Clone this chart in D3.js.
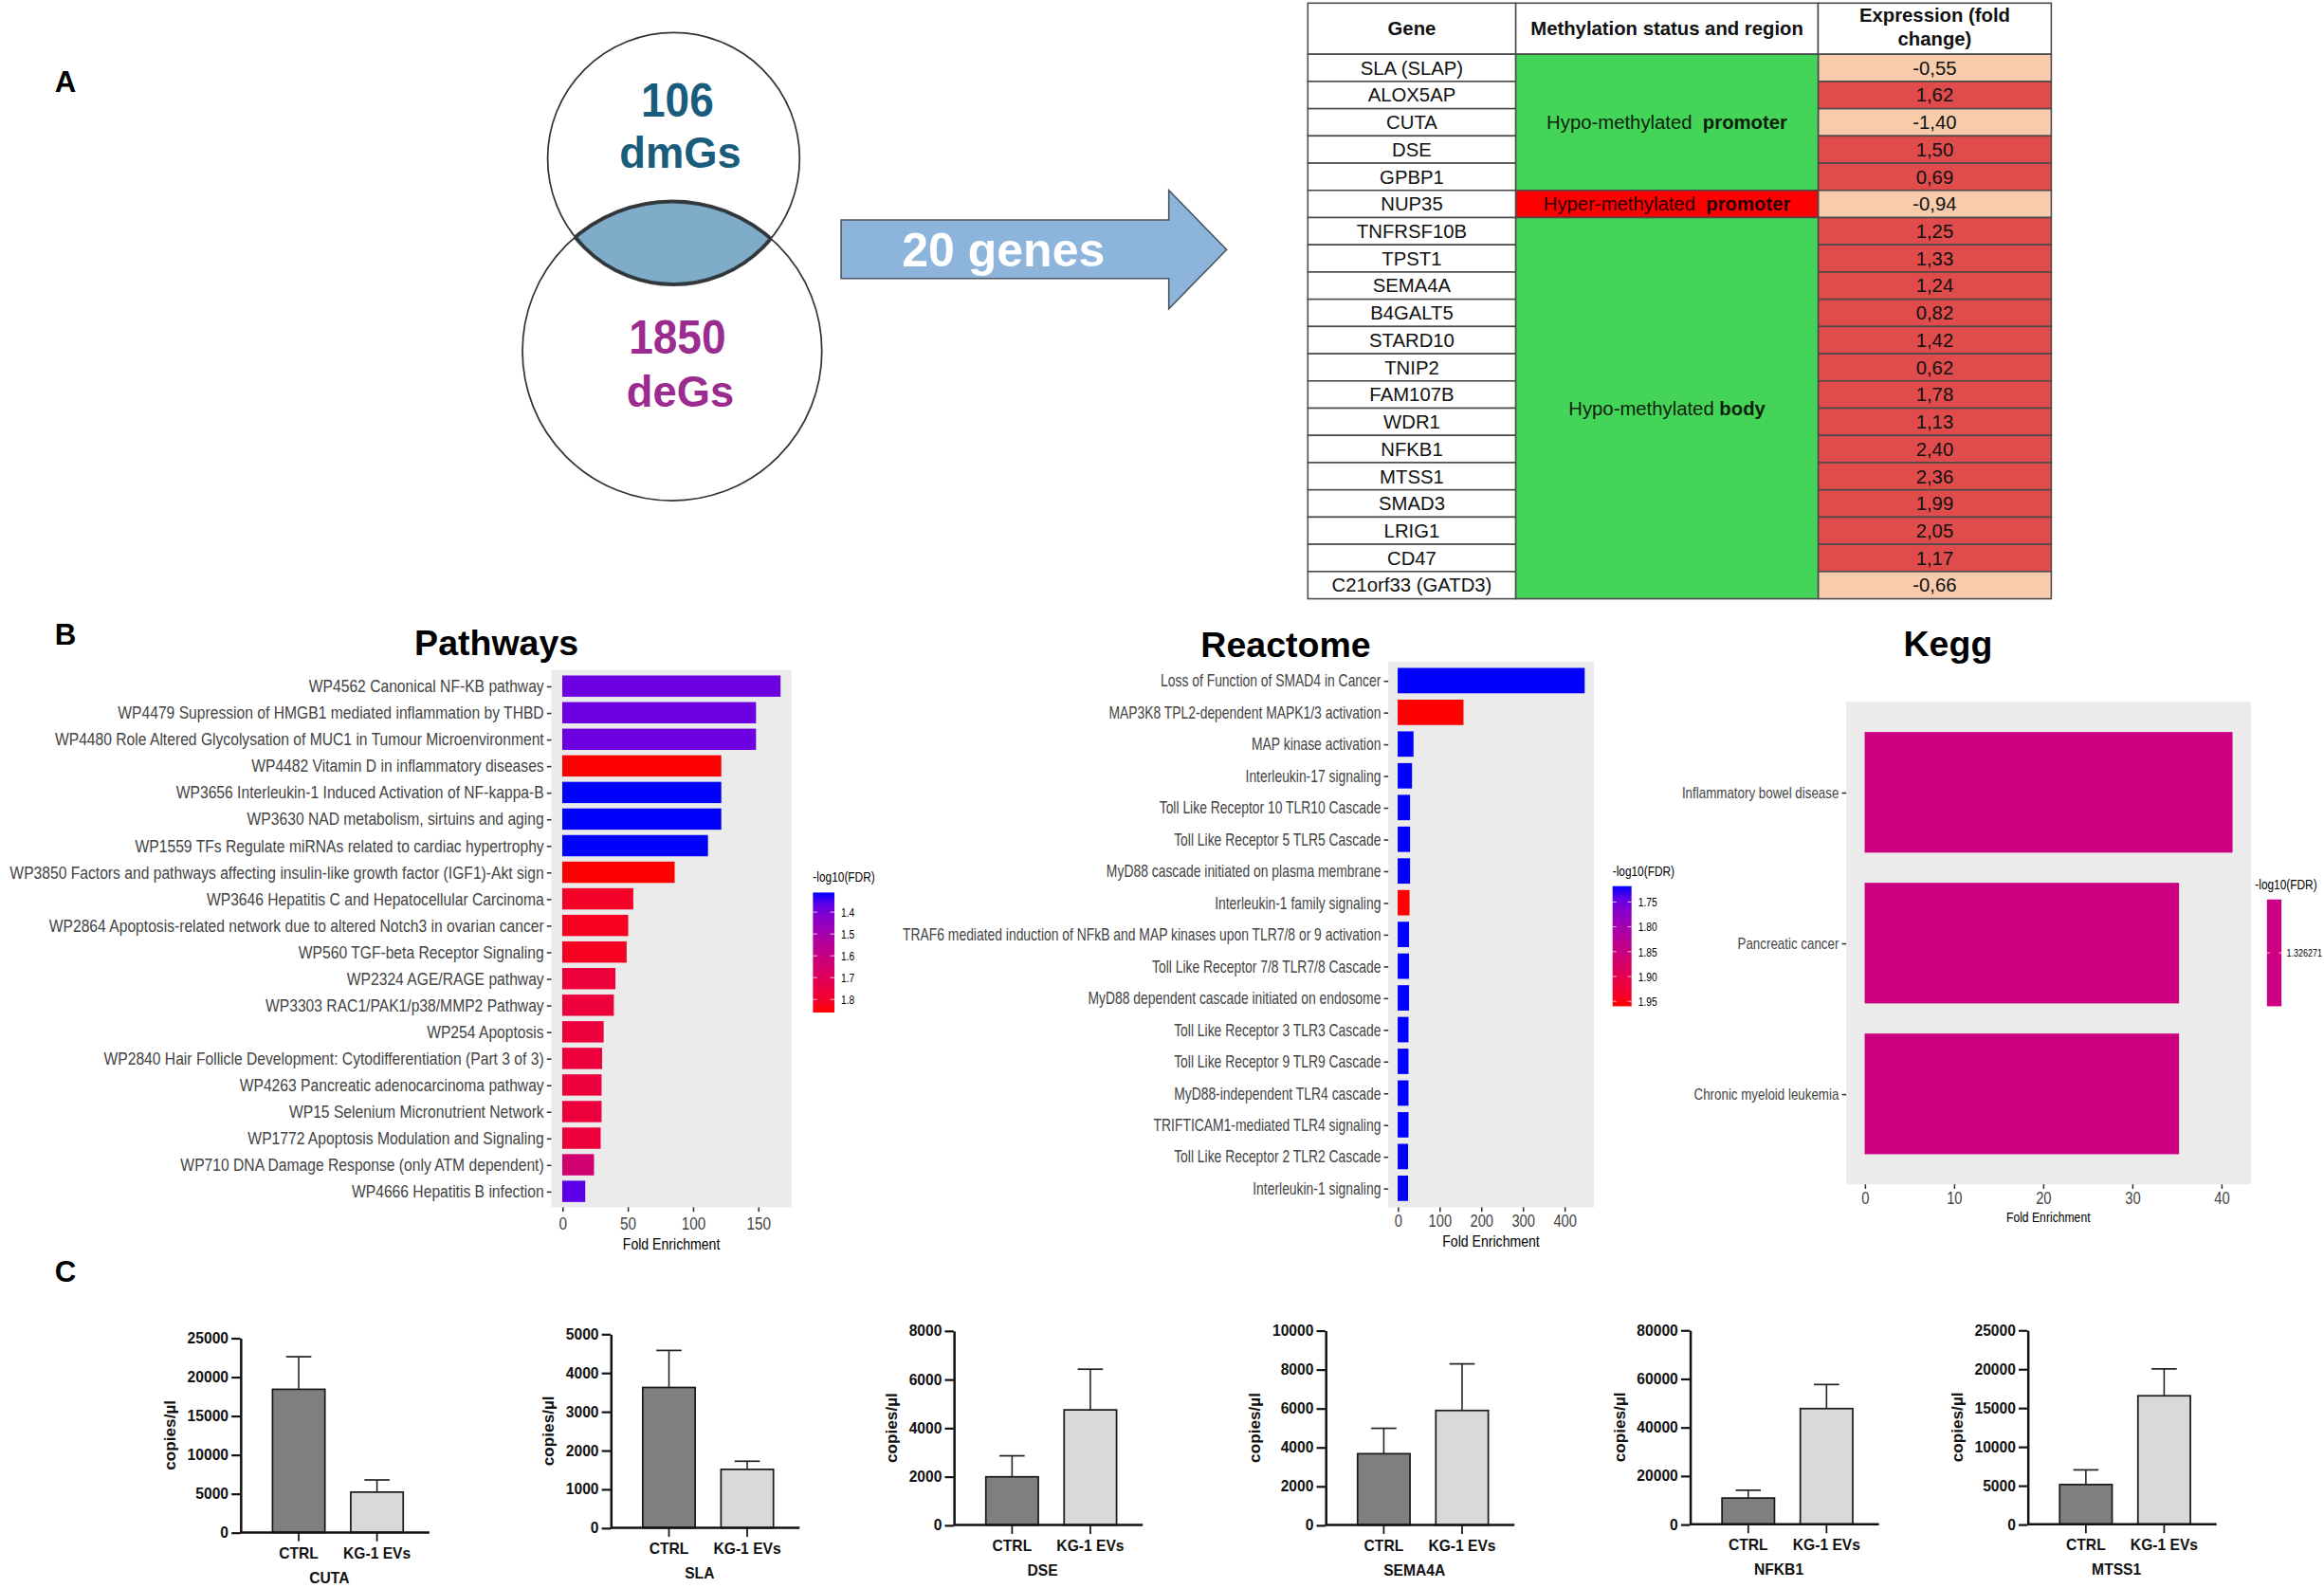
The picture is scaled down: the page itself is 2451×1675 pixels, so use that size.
<!DOCTYPE html>
<html>
<head>
<meta charset="utf-8">
<script src="https://cdn.jsdelivr.net/npm/d3@7.9.0/dist/d3.min.js"></script>
<style>
  body { margin: 0; background: #fff; }
  svg { display: block; }
</style>
</head>
<body>
<svg id="fig"></svg>
<script>
// ---------- data ----------
// panel A: venn
const vennCounts = [106, 1850];
const vennNames = ['dmGs', 'deGs'];
const overlapCount = 20;

// panel A: table
const tableHeader = ['Gene', 'Methylation status and region', ['Expression (fold', 'change)']];
const genes = ['SLA (SLAP)', 'ALOX5AP', 'CUTA', 'DSE', 'GPBP1', 'NUP35', 'TNFRSF10B', 'TPST1',
  'SEMA4A', 'B4GALT5', 'STARD10', 'TNIP2', 'FAM107B', 'WDR1', 'NFKB1', 'MTSS1', 'SMAD3',
  'LRIG1', 'CD47', 'C21orf33 (GATD3)'];
const foldChange = [-0.55, 1.62, -1.40, 1.50, 0.69, -0.94, 1.25, 1.33, 1.24, 0.82, 1.42, 0.62,
  1.78, 1.13, 2.40, 2.36, 1.99, 2.05, 1.17, -0.66];
// [status, region, first row, number of rows]
const methylRegions = [
  ['Hypo-methylated', 'promoter', 0, 5],
  ['Hyper-methylated', 'promoter', 5, 1],
  ['Hypo-methylated', 'body', 6, 14]
];

// panel B: WikiPathways
const pathwayNames = ['WP4562 Canonical NF-KB pathway',
  'WP4479 Supression of HMGB1 mediated inflammation by THBD',
  'WP4480 Role Altered Glycolysation of MUC1 in Tumour Microenvironment',
  'WP4482 Vitamin D in inflammatory diseases',
  'WP3656 Interleukin-1 Induced Activation of NF-kappa-B',
  'WP3630 NAD metabolism, sirtuins and aging',
  'WP1559 TFs Regulate miRNAs related to cardiac hypertrophy',
  'WP3850 Factors and pathways affecting insulin-like growth factor (IGF1)-Akt sign',
  'WP3646 Hepatitis C and Hepatocellular Carcinoma',
  'WP2864 Apoptosis-related network due to altered Notch3 in ovarian cancer',
  'WP560 TGF-beta Receptor Signaling',
  'WP2324 AGE/RAGE pathway',
  'WP3303 RAC1/PAK1/p38/MMP2 Pathway',
  'WP254 Apoptosis',
  'WP2840 Hair Follicle Development: Cytodifferentiation (Part 3 of 3)',
  'WP4263 Pancreatic adenocarcinoma pathway',
  'WP15 Selenium Micronutrient Network',
  'WP1772 Apoptosis Modulation and Signaling',
  'WP710 DNA Damage Response (only ATM dependent)',
  'WP4666 Hepatitis B infection'];
const pathwayFE = [167.2, 148.4, 148.4, 121.8, 121.8, 121.8, 111.6, 86.1, 54.4, 50.5, 49.3,
  40.7, 39.5, 31.7, 30.5, 30.1, 30.1, 29.4, 24.3, 17.6];
const pathwayFDR = [1.38, 1.38, 1.38, 1.86, 1.31, 1.31, 1.31, 1.86, 1.81, 1.82, 1.82,
  1.77, 1.77, 1.77, 1.77, 1.77, 1.77, 1.77, 1.64, 1.36];
const pathwayTicks = [0, 50, 100, 150];
const pathwayLegendTicks = [1.4, 1.5, 1.6, 1.7, 1.8];

// panel B: Reactome
const reactomeNames = ['Loss of Function of SMAD4 in Cancer',
  'MAP3K8 TPL2-dependent MAPK1/3 activation',
  'MAP kinase activation',
  'Interleukin-17 signaling',
  'Toll Like Receptor 10 TLR10 Cascade',
  'Toll Like Receptor 5 TLR5 Cascade',
  'MyD88 cascade initiated on plasma membrane',
  'Interleukin-1 family signaling',
  'TRAF6 mediated induction of NFkB and MAP kinases upon TLR7/8 or 9 activation',
  'Toll Like Receptor 7/8 TLR7/8 Cascade',
  'MyD88 dependent cascade initiated on endosome',
  'Toll Like Receptor 3 TLR3 Cascade',
  'Toll Like Receptor 9 TLR9 Cascade',
  'MyD88-independent TLR4 cascade',
  'TRIFTICAM1-mediated TLR4 signaling',
  'Toll Like Receptor 2 TLR2 Cascade',
  'Interleukin-1 signaling'];
const reactomeFE = [448.7, 157.9, 38.0, 34.4, 29.7, 29.7, 29.7, 28.5, 27.3, 27.3, 27.3,
  26.0, 26.0, 26.0, 26.0, 25.0, 25.0];
const reactomeFDR = [1.718, 1.96, 1.718, 1.718, 1.718, 1.718, 1.718, 1.96, 1.718, 1.718, 1.718,
  1.718, 1.718, 1.718, 1.718, 1.718, 1.718];
const reactomeTicks = [0, 100, 200, 300, 400];
const reactomeLegendTicks = [1.75, 1.80, 1.85, 1.90, 1.95];

// panel B: KEGG
const keggNames = ['Inflammatory bowel disease', 'Pancreatic cancer', 'Chronic myeloid leukemia'];
const keggFE = [41.27, 35.27, 35.27];
const keggFDR = [1.326271, 1.326271, 1.326271];
const keggTicks = [0, 10, 20, 30, 40];

// panel C: ddPCR
const qpcrGenes = ['CUTA', 'SLA', 'DSE', 'SEMA4A', 'NFKB1', 'MTSS1'];
const qpcrGroups = ['CTRL', 'KG-1 EVs'];
const ctrlMean = [18400, 3620, 1985, 3665, 10820, 5115];
const ctrlSD = [4190, 955, 865, 1305, 3220, 1890];
const kgMean = [5185, 1508, 4740, 5885, 47665, 16545];
const kgSD = [1565, 210, 1675, 2395, 9920, 3460];
const qpcrMax = [25000, 5000, 8000, 10000, 80000, 25000];
const qpcrStep = [5000, 1000, 2000, 2000, 20000, 5000];

// ---------- setup ----------
const W = 1568, H = 1072;
const SANS = "'Liberation Sans', Arial, Helvetica, sans-serif";
const NARROW = "'Liberation Sans Narrow', 'Arial Narrow', 'Liberation Sans', sans-serif";

const svg = d3.select('#fig')
  .attr('width', 2451).attr('height', 1675)
  .attr('viewBox', `0 0 ${W} ${H}`)
  .attr('preserveAspectRatio', 'none')
  .style('font-family', SANS);
const defs = svg.append('defs');

// no narrow font installed -> compress the glyphs horizontally around their anchor
function squeeze(sel, f) {
  sel.each(function () {
    const x = +this.getAttribute('x') || 0;
    d3.select(this).attr('transform', `translate(${x},0) scale(${f},1) translate(${-x},0)`);
  });
}
// compress a set of labels so that the widest one gets the given width
function fitWidest(sel, width) {
  let max = 0;
  sel.each(function () { max = Math.max(max, this.getComputedTextLength()); });
  squeeze(sel, Math.min(1, width / max));
}

// panel letters
[['A', 37, 62], ['B', 37, 435], ['C', 37, 865]].forEach(([t, x, y]) => {
  svg.append('text').attr('x', x).attr('y', y).text(t)
    .attr('font-size', 20).attr('font-weight', 'bold').attr('fill', '#000');
});

// ---------- venn ----------
const circles = [{ cx: 454.5, cy: 107, r: 85 }, { cx: 453.5, cy: 237, r: 101 }];
const vennTextColor = ['#1a5c7c', '#9c2b8f'];
const vennTextY = [[78.7, 113.3], [238.7, 274.7]];

circles.forEach((c, i) => {
  defs.append('clipPath').attr('id', 'clipC' + i)
    .append('circle').attr('cx', c.cx).attr('cy', c.cy).attr('r', c.r);
});
const venn = svg.append('g');
// lens = bottom circle clipped by top circle
venn.append('circle').attr('cx', circles[1].cx).attr('cy', circles[1].cy).attr('r', circles[1].r)
  .attr('clip-path', 'url(#clipC0)').attr('fill', '#7fadc9')
  .attr('stroke', '#36434a').attr('stroke-width', 2.6);
venn.append('circle').attr('cx', circles[0].cx).attr('cy', circles[0].cy).attr('r', circles[0].r)
  .attr('clip-path', 'url(#clipC1)').attr('fill', 'none')
  .attr('stroke', '#36434a').attr('stroke-width', 2.6);
venn.selectAll('circle.outline').data(circles).join('circle')
  .attr('class', 'outline')
  .attr('cx', d => d.cx).attr('cy', d => d.cy).attr('r', d => d.r)
  .attr('fill', 'none').attr('stroke', '#333').attr('stroke-width', 1.1);

vennCounts.forEach((n, i) => {
  const t1 = venn.append('text').attr('x', 457).attr('y', vennTextY[i][0]).text(n)
    .attr('text-anchor', 'middle').attr('font-size', 32).attr('font-weight', 'bold')
    .attr('fill', vennTextColor[i]);
  squeeze(t1, 0.92);
  venn.append('text').attr('x', 459).attr('y', vennTextY[i][1]).text(vennNames[i])
    .attr('text-anchor', 'middle').attr('font-size', 29).attr('font-weight', 'bold')
    .attr('fill', vennTextColor[i]);
});

// arrow
const arrow = d3.path();
arrow.moveTo(567.5, 148.5);
arrow.lineTo(788.6, 148.5);
arrow.lineTo(788.6, 128.5);
arrow.lineTo(827.6, 168.5);
arrow.lineTo(788.6, 208.5);
arrow.lineTo(788.6, 188);
arrow.lineTo(567.5, 188);
arrow.closePath();
svg.append('path').attr('d', arrow.toString())
  .attr('fill', '#8db4da').attr('stroke', '#4a5560').attr('stroke-width', 1);
svg.append('text').attr('x', 677).attr('y', 180).text(`${overlapCount} genes`)
  .attr('text-anchor', 'middle').attr('font-size', 32).attr('font-weight', 'bold')
  .attr('fill', '#fff');

// ---------- table ----------
const colX = [882.4, 1022.7, 1226.7, 1384];
const headTop = 2.1, headBottom = 36.6, tableBottom = 404.2;
const rowY = d3.scaleBand().domain(d3.range(genes.length)).range([headBottom, tableBottom]);
const fmt = d3.formatLocale({ decimal: ',', thousands: '.', grouping: [3], currency: ['', ''], minus: '-' }).format('.2f');
const tbl = svg.append('g').attr('font-size', 13).attr('fill', '#111');
const border = '#4a4a4a';

// header
for (let c = 0; c < 3; c++) {
  tbl.append('rect').attr('x', colX[c]).attr('y', headTop)
    .attr('width', colX[c + 1] - colX[c]).attr('height', headBottom - headTop)
    .attr('fill', '#fff').attr('stroke', border).attr('stroke-width', 1);
  const cx = (colX[c] + colX[c + 1]) / 2;
  const h = tableHeader[c];
  if (Array.isArray(h)) {
    h.forEach((line, k) => tbl.append('text').attr('x', cx).attr('y', 15 + k * 16).text(line)
      .attr('text-anchor', 'middle').attr('font-weight', 'bold'));
  } else {
    tbl.append('text').attr('x', cx).attr('y', 23.5).text(h)
      .attr('text-anchor', 'middle').attr('font-weight', 'bold');
  }
}

// gene + expression cells
genes.forEach((g, i) => {
  const y = rowY(i), h = rowY.bandwidth();
  tbl.append('rect').attr('x', colX[0]).attr('y', y).attr('width', colX[1] - colX[0]).attr('height', h)
    .attr('fill', '#fff').attr('stroke', border);
  tbl.append('text').attr('x', (colX[0] + colX[1]) / 2).attr('y', y + h / 2 + 4.6).text(g)
    .attr('text-anchor', 'middle');
  const v = foldChange[i];
  tbl.append('rect').attr('x', colX[2]).attr('y', y).attr('width', colX[3] - colX[2]).attr('height', h)
    .attr('fill', v < 0 ? '#f8cbad' : '#e04b4b').attr('stroke', border);
  tbl.append('text').attr('x', (colX[2] + colX[3]) / 2).attr('y', y + h / 2 + 4.6).text(fmt(v))
    .attr('text-anchor', 'middle');
});

// methylation region cells
methylRegions.forEach(([status, region, r0, n]) => {
  const y0 = rowY(r0), y1 = rowY(r0 + n - 1) + rowY.bandwidth();
  const hyper = status.startsWith('Hyper');
  tbl.append('rect').attr('x', colX[1]).attr('y', y0).attr('width', colX[2] - colX[1]).attr('height', y1 - y0)
    .attr('fill', hyper ? '#ff0000' : '#44d558').attr('stroke', border);
  const t = tbl.append('text').attr('x', (colX[1] + colX[2]) / 2).attr('y', (y0 + y1) / 2 + 4.6)
    .attr('text-anchor', 'middle').attr('fill', hyper ? '#2a0000' : '#0b1f0b')
    .attr('xml:space', 'preserve');
  t.append('tspan').text(status + (region === 'promoter' ? '  ' : ' '));
  t.append('tspan').attr('font-weight', 'bold').text(region);
});

// ---------- enrichment bar charts ----------
const fdrColor = (lo, hi) => d3.scaleLinear().domain([lo, hi]).range(['#0000ff', '#ff0000'])
  .interpolate(d3.interpolateLab);

function enrichChart(cfg) {
  const g = svg.append('g');
  const p = cfg.panel;
  const max = d3.max(cfg.values);
  const x = d3.scaleLinear().domain([-0.05 * max, 1.05 * max]).range([p.x0, p.x1]);
  const y = d3.scalePoint().domain(cfg.names).range([p.y0, p.y1]).padding(0.6);
  const bw = y.step() * 0.8;

  g.append('rect').attr('x', p.x0).attr('y', p.y0).attr('width', p.x1 - p.x0).attr('height', p.y1 - p.y0)
    .attr('fill', '#ebebeb');

  g.selectAll('rect.bar').data(cfg.names).join('rect')
    .attr('class', 'bar')
    .attr('x', x(0))
    .attr('y', d => y(d) - bw / 2)
    .attr('width', (d, i) => x(cfg.values[i]) - x(0))
    .attr('height', bw)
    .attr('fill', (d, i) => cfg.color ? cfg.color(cfg.fdr[i]) : cfg.fill);

  const yAx = g.append('g').attr('transform', `translate(${p.x0},0)`)
    .call(d3.axisLeft(y).tickSize(3).tickPadding(2));
  yAx.select('.domain').remove();
  yAx.selectAll('line').attr('stroke', '#333');
  yAx.selectAll('text').attr('font-family', NARROW).attr('font-size', cfg.labelSize).attr('fill', '#444');
  fitWidest(yAx.selectAll('text'), cfg.labelWidth);

  const xAx = g.append('g').attr('transform', `translate(0,${p.y1})`)
    .call(d3.axisBottom(x).tickValues(cfg.ticks).tickSize(3).tickPadding(cfg.tickPad));
  xAx.select('.domain').remove();
  xAx.selectAll('line').attr('stroke', '#333');
  xAx.selectAll('text').attr('font-family', NARROW).attr('font-size', cfg.tickSize).attr('fill', '#444');
  squeeze(xAx.selectAll('text'), 0.82);

  const xl = g.append('text').attr('x', cfg.xlabX).attr('y', p.y1 + cfg.xlabDy)
    .text('Fold Enrichment').attr('text-anchor', 'middle')
    .attr('font-family', NARROW).attr('font-size', cfg.xlabSize).attr('fill', '#000');
  squeeze(xl, 0.82);

  g.append('text').attr('x', cfg.titleX).attr('y', cfg.titleY).text(cfg.title)
    .attr('text-anchor', 'middle').attr('font-size', 24).attr('font-weight', 'bold').attr('fill', '#000');

  // colour bar legend
  const L = cfg.legend;
  const leg = g.append('g');
  const lt = leg.append('text').attr('x', L.x + (L.titleDx || 0)).attr('y', L.y0 - 7).text('-log10(FDR)')
    .attr('font-family', NARROW).attr('font-size', 9.5).attr('fill', '#000');
  squeeze(lt, 0.8);
  let ly;
  if (cfg.color) {
    const gid = 'grad' + cfg.title;
    const lg = defs.append('linearGradient').attr('id', gid)
      .attr('x1', 0).attr('x2', 0).attr('y1', 0).attr('y2', 1);
    d3.range(0, 1.0001, 0.1).forEach(t => {
      lg.append('stop').attr('offset', t)
        .attr('stop-color', cfg.color(L.lo + (L.hi - L.lo) * t));
    });
    ly = d3.scaleLinear().domain([L.lo, L.hi]).range([L.y0, L.y1]);
    leg.append('rect').attr('x', L.x).attr('y', L.y0).attr('width', L.w).attr('height', L.y1 - L.y0)
      .attr('fill', `url(#${gid})`);
  } else {
    // a single value: ggplot puts it in the middle of the bar
    ly = d3.scalePoint().domain(L.ticks).range([L.y0, L.y1]).padding(0.5);
    leg.append('rect').attr('x', L.x).attr('y', L.y0).attr('width', L.w).attr('height', L.y1 - L.y0)
      .attr('fill', cfg.fill);
  }
  const lAx = leg.append('g').attr('transform', `translate(${L.x + L.w},0)`)
    .call(d3.axisRight(ly).tickValues(L.ticks).tickSize(0).tickPadding(L.pad).tickFormat(L.format));
  lAx.select('.domain').remove();
  lAx.selectAll('text').attr('font-family', NARROW).attr('font-size', L.size).attr('fill', '#000');
  squeeze(lAx.selectAll('text'), 0.82);
  L.ticks.forEach(t => {
    [[L.x, L.x + L.w / 5], [L.x + L.w * 4 / 5, L.x + L.w]].forEach(([a, b]) => {
      leg.append('line').attr('x1', a).attr('x2', b).attr('y1', ly(t)).attr('y2', ly(t))
        .attr('stroke', '#fff').attr('stroke-width', 0.6).attr('opacity', 0.8);
    });
  });
}

enrichChart({
  title: 'Pathways', titleX: 335, titleY: 442.4,
  names: pathwayNames, values: pathwayFE, fdr: pathwayFDR,
  color: fdrColor(1.31, 1.86),
  panel: { x0: 372, x1: 534, y0: 452.4, y1: 815 },
  ticks: pathwayTicks, tickSize: 12, tickPad: 3.5, labelSize: 11.5, labelWidth: 360.5,
  xlabX: 453, xlabDy: 28.8, xlabSize: 11,
  legend: { x: 548.5, w: 14.5, y0: 602.5, y1: 683.5, lo: 1.31, hi: 1.86, pad: 4.5, size: 8,
    ticks: pathwayLegendTicks, format: d3.format('.1f') }
});

enrichChart({
  title: 'Reactome', titleX: 867.5, titleY: 443.8,
  names: reactomeNames, values: reactomeFE, fdr: reactomeFDR,
  color: fdrColor(1.718, 1.96),
  panel: { x0: 936.7, x1: 1075.5, y0: 446.6, y1: 815 },
  ticks: reactomeTicks, tickSize: 11.5, tickPad: 2, labelSize: 11.5, labelWidth: 323,
  xlabX: 1006, xlabDy: 26.8, xlabSize: 11,
  legend: { x: 1088, w: 12.8, y0: 598.2, y1: 679.3, lo: 1.718, hi: 1.96, pad: 4.5, size: 8,
    ticks: reactomeLegendTicks, format: d3.format('.2f') }
});

enrichChart({
  title: 'Kegg', titleX: 1314.3, titleY: 443.2,
  names: keggNames, values: keggFE, fdr: keggFDR,
  color: null, fill: '#cc0080',
  panel: { x0: 1245.7, x1: 1518.7, y0: 473.8, y1: 799.5 },
  ticks: keggTicks, tickSize: 11.5, tickPad: 2, labelSize: 11, labelWidth: 106,
  xlabX: 1382, xlabDy: 25.7, xlabSize: 9.5,
  legend: { x: 1529.5, titleDx: -8, w: 9.8, y0: 607.2, y1: 679.3, pad: 3.5, size: 7,
    ticks: [keggFDR[0]], format: d => String(d) }
});

// ---------- panel C: bar charts ----------
const axisXs = [162.2, 412, 643.5, 894.3, 1140.2, 1368];
const axisY0 = [1034.5, 1031.4, 1029.5, 1029.5, 1029, 1029];
const axisTop = [903.2, 900.5, 898.3, 898.1, 897.9, 897.9];
const groupFill = ['#7f7f7f', '#d9d9d9'];

qpcrGenes.forEach((gene, i) => {
  const g = svg.append('g');
  const ax = axisXs[i], y0 = axisY0[i];
  const y = d3.scaleLinear().domain([0, qpcrMax[i]]).range([y0, axisTop[i]]);
  const x = d3.scaleBand().domain(qpcrGroups).range([ax, ax + 131.5])
    .paddingInner(0.33).paddingOuter(0.41);
  const means = [ctrlMean[i], kgMean[i]];
  const sds = [ctrlSD[i], kgSD[i]];

  // bars
  g.selectAll('rect.bar').data(qpcrGroups).join('rect')
    .attr('class', 'bar')
    .attr('x', d => x(d)).attr('width', x.bandwidth())
    .attr('y', (d, k) => y(means[k])).attr('height', (d, k) => y0 - y(means[k]))
    .attr('fill', (d, k) => groupFill[k]).attr('stroke', '#1a1a1a').attr('stroke-width', 1.1);

  // error bars (upper only)
  qpcrGroups.forEach((d, k) => {
    const cx = x(d) + x.bandwidth() / 2;
    g.append('line').attr('x1', cx).attr('x2', cx)
      .attr('y1', y(means[k])).attr('y2', y(means[k] + sds[k]))
      .attr('stroke', '#222').attr('stroke-width', 1);
    g.append('line').attr('x1', cx - 8.5).attr('x2', cx + 8.5)
      .attr('y1', y(means[k] + sds[k])).attr('y2', y(means[k] + sds[k]))
      .attr('stroke', '#222').attr('stroke-width', 1.1);
  });

  // y axis
  const yAx = g.append('g').attr('transform', `translate(${ax},0)`)
    .call(d3.axisLeft(y).tickValues(d3.range(0, qpcrMax[i] + 1, qpcrStep[i]))
      .tickSize(6).tickSizeOuter(0).tickPadding(2).tickFormat(d3.format('d')));
  yAx.select('.domain').attr('stroke', '#111').attr('stroke-width', 1.6);
  yAx.selectAll('line').attr('stroke', '#111').attr('stroke-width', 1.4);
  yAx.selectAll('text').attr('font-size', 10).attr('font-weight', 'bold').attr('fill', '#111');

  // x axis
  const xAx = g.append('g').attr('transform', `translate(0,${y0})`)
    .call(d3.axisBottom(x).tickSize(6).tickSizeOuter(0).tickPadding(4.5));
  xAx.select('.domain').attr('d', `M${ax},0H${ax + 127.5}`).attr('stroke', '#111').attr('stroke-width', 1.6);
  xAx.selectAll('line').attr('stroke', '#111').attr('stroke-width', 1.1);
  xAx.selectAll('text').attr('font-size', 10).attr('font-weight', 'bold').attr('fill', '#111');

  // labels
  const digits = String(qpcrMax[i]).length;
  g.append('text')
    .attr('transform', `translate(${ax - (16 + digits * 5.56)},${(y0 + axisTop[i]) / 2}) rotate(-90)`)
    .text('copies/µl').attr('text-anchor', 'middle')
    .attr('font-size', 11).attr('font-weight', 'bold').attr('fill', '#111');
  g.append('text').attr('x', ax + 60).attr('y', y0 + 34).text(gene)
    .attr('text-anchor', 'middle').attr('font-size', 10).attr('font-weight', 'bold').attr('fill', '#111');
});
</script>
</body>
</html>
